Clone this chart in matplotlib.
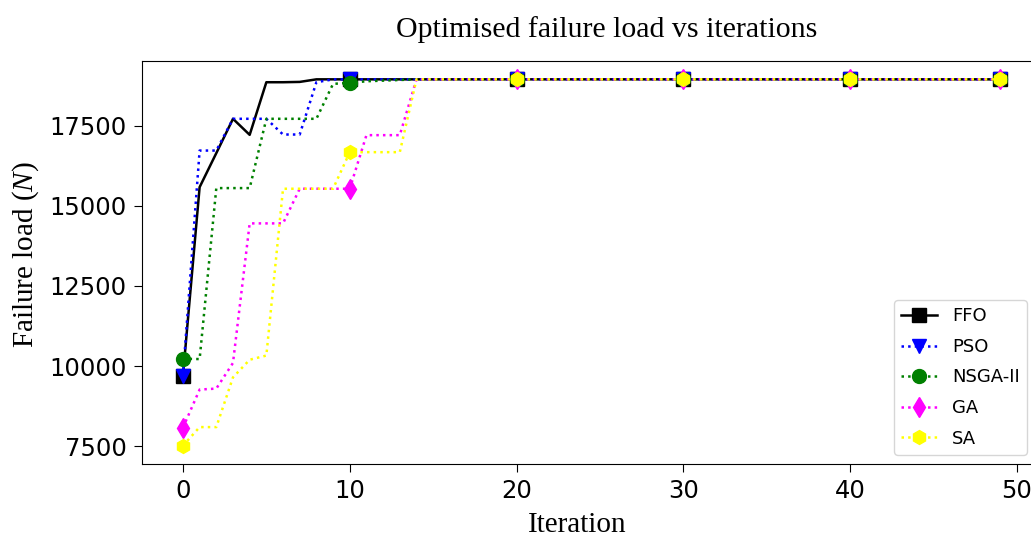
import numpy as np
import matplotlib
matplotlib.use('Agg')
import matplotlib.pyplot as plt

plt.rcParams['mathtext.fontset'] = 'custom'
plt.rcParams['mathtext.it'] = 'Liberation Serif:italic'
plt.rcParams['mathtext.rm'] = 'Liberation Serif'

# best failure load found so far (N), one value per iteration 0..49
ffo = [9700, 15580, 16640, 17710, 17210, 18850, 18850, 18860, 18940, 18940,
       18940, 18940, 18940, 18940, 18940, 18940, 18940, 18940, 18940, 18940,
       18940, 18940, 18940, 18940, 18940, 18940, 18940, 18940, 18940, 18940,
       18940, 18940, 18940, 18940, 18940, 18940, 18940, 18940, 18940, 18940,
       18940, 18940, 18940, 18940, 18940, 18940, 18940, 18940, 18940, 18940]
pso = [9700, 16720, 16720, 17710, 17710, 17710, 17220, 17220, 18850, 18940,
       18940, 18940, 18940, 18940, 18940, 18940, 18940, 18940, 18940, 18940,
       18940, 18940, 18940, 18940, 18940, 18940, 18940, 18940, 18940, 18940,
       18940, 18940, 18940, 18940, 18940, 18940, 18940, 18940, 18940, 18940,
       18940, 18940, 18940, 18940, 18940, 18940, 18940, 18940, 18940, 18940]
nsga = [10230, 10220, 15550, 15550, 15550, 17710, 17710, 17710, 17710, 18800,
        18830, 18880, 18900, 18920, 18940, 18940, 18940, 18940, 18940, 18940,
        18940, 18940, 18940, 18940, 18940, 18940, 18940, 18940, 18940, 18940,
        18940, 18940, 18940, 18940, 18940, 18940, 18940, 18940, 18940, 18940,
        18940, 18940, 18940, 18940, 18940, 18940, 18940, 18940, 18940, 18940]
ga = [8080, 9270, 9300, 10100, 14450, 14450, 14450, 15530, 15530, 15530,
      15530, 17200, 17200, 17200, 18940, 18940, 18940, 18940, 18940, 18940,
      18940, 18940, 18940, 18940, 18940, 18940, 18940, 18940, 18940, 18940,
      18940, 18940, 18940, 18940, 18940, 18940, 18940, 18940, 18940, 18940,
      18940, 18940, 18940, 18940, 18940, 18940, 18940, 18940, 18940, 18940]
sa = [7520, 8100, 8100, 9650, 10200, 10330, 15530, 15530, 15530, 15530,
      16670, 16670, 16670, 16670, 18940, 18940, 18940, 18940, 18940, 18940,
      18940, 18940, 18940, 18940, 18940, 18940, 18940, 18940, 18940, 18940,
      18940, 18940, 18940, 18940, 18940, 18940, 18940, 18940, 18940, 18940,
      18940, 18940, 18940, 18940, 18940, 18940, 18940, 18940, 18940, 18940]

labels = ['FFO', 'PSO', 'NSGA-II', 'GA', 'SA']
iterations = np.arange(len(ffo))
marks = [0, 10, 20, 30, 40, 49]

fig = plt.figure(figsize=(10.31, 5.41), dpi=100)
ax = fig.add_axes([0.1378, 0.1423, 0.8721, 0.7449])

ax.plot(iterations, ffo, 'k-s', lw=1.8, ms=10, markevery=marks, label=labels[0])
ax.plot(iterations, pso, ':', color='blue', marker='v', lw=1.8, ms=10, markevery=marks, label=labels[1])
ax.plot(iterations, nsga, ':', color='green', marker='o', lw=1.8, ms=10, markevery=marks, label=labels[2])
ax.plot(iterations, ga, ':', color='magenta', marker='d', lw=1.8, ms=10, markevery=marks, label=labels[3])
ax.plot(iterations, sa, ':', color='yellow', marker='h', lw=1.8, ms=10, markevery=marks, label=labels[4])

ax.tick_params(labelsize=17.5, length=6, pad=5)
ax.set_yticks([7500, 10000, 12500, 15000, 17500])
ax.set_xticks([0, 10, 20, 30, 40, 50])

ax.set_xlabel('Iteration', family='Liberation Serif', fontsize=21)
ax.xaxis.set_label_coords(0.484, -0.118)
ax.set_ylabel('Failure load ($N$)', family='Liberation Serif', fontsize=21)
ax.yaxis.set_label_coords(-0.112, 0.52)
fig.text(0.588, 0.945, 'Optimised failure load vs iterations', family='Liberation Serif',
         fontsize=21.5, ha='center', va='center')

ax.legend(loc='lower right', bbox_to_anchor=(0.994, 0.0), fontsize=13, labelspacing=0.7)

fig.savefig('out.png', dpi=100)
